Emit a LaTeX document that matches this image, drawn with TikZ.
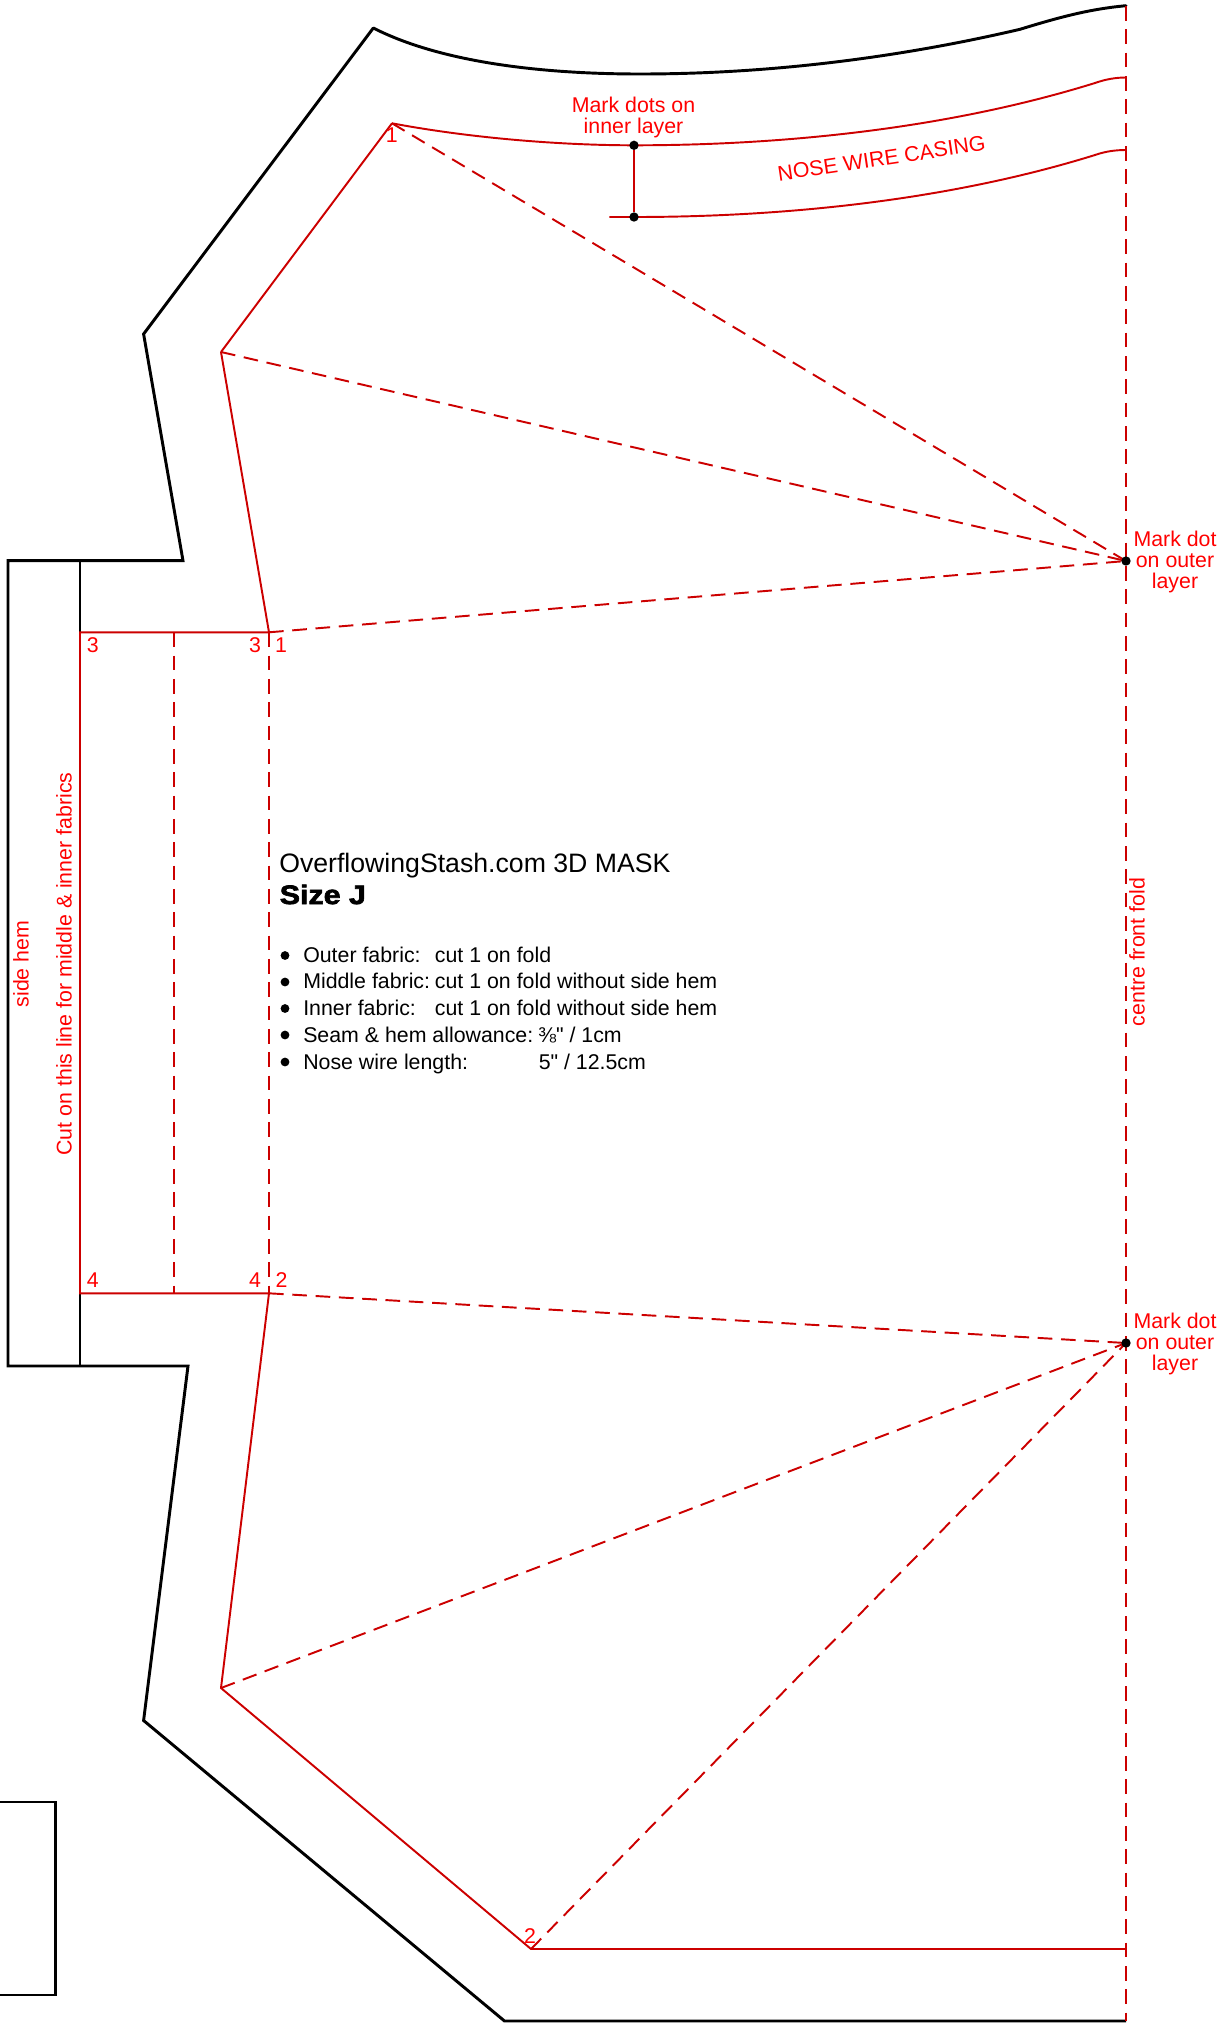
\documentclass[tikz,border=0pt]{standalone}
\usepackage{fontspec}
\setmainfont{Liberation Sans}
\newfontfamily\plainf{Liberation Sans}
\newfontfamily\blk[FakeBold=2.6,FakeStretch=1.14]{Liberation Sans Bold}
\definecolor{seam}{HTML}{CC0000}
\definecolor{lab}{HTML}{FF0000}
\pgfdeclarelayer{lines}
\pgfsetlayers{lines,main}
\tikzset{
 outline/.style={draw=black,line width=2.2pt,line join=miter},
 seamline/.style={draw=seam,line width=1.45pt},
 foldline/.style={draw=seam,line width=1.45pt,dash pattern=on 11pt off 6.5pt},
 redtext/.style={text=lab,inner sep=0pt,align=center,font=\fontsize{16}{15.75}\selectfont},
 numtext/.style={text=lab,inner sep=0pt,font=\fontsize{16}{16}\selectfont},
 bodytext/.style={text=black,inner sep=0pt,anchor=base west,font=\fontsize{16}{16}\selectfont},
 dotmark/.style={circle,fill=black,inner sep=0pt,minimum size=7pt},
 bulletmark/.style={circle,fill=black,inner sep=0pt,minimum size=6.6pt},
}
\begin{document}
\begin{tikzpicture}[x=0.75pt,y=-0.75pt]
\useasboundingbox (0,0) rectangle (1225,2028);
% key points
\coordinate (p1) at (392,123.3);
\coordinate (p2) at (221,352);
\coordinate (p3) at (269,632.3);
\coordinate (p4) at (269,1293.3);
\coordinate (p5) at (221,1688);
\coordinate (p6) at (531,1949);
\coordinate (p7) at (1126,1949);
\coordinate (l3) at (80,632.3);
\coordinate (l4) at (80,1293.3);
\coordinate (m3) at (174,632.3);
\coordinate (m4) at (174,1293.3);
\coordinate (ftop) at (1126,6);
\coordinate (fbot) at (1126,2021);
\node[dotmark] (dotA) at (1126,561) {};
\node[dotmark] (dotB) at (1126,1343) {};
\node[dotmark] (dotC) at (634,145.3) {};
\node[dotmark] (dotD) at (634,217) {};
\begin{pgfonlayer}{lines}
% outer cutting line
\draw[outline,line cap=round] (373.3,28) .. controls (440,62) and (540,74) .. (640,74) .. controls (780,74) and (910,55) .. (1020,29.3) .. controls (1060,17) and (1090,9) .. (1126,5.7);
\draw[outline] (373.3,28) -- (143.6,334) -- (183,560.7) -- (8,560.7) -- (8,1366) -- (188,1366) -- (143.6,1720.5) -- (504.5,2021) -- (1126,2021);
\draw[draw=black,line width=2.2pt] (80,560.7) -- (80,1366);
\draw[outline] (0,1802) -- (55.6,1802) -- (55.6,1995) -- (0,1995);
% solid seams
\draw[seamline] (p2) -- (p1);
\draw[seamline] (p2) -- (p3) -- (l3) -- (l4) -- (p4) -- (p5) -- (p6) -- (p7);
\draw[seamline] (p1) .. controls (470,138) and (560,145.3) .. (dotC.center) .. controls (800,145.3) and (960,125) .. (1095,83) .. controls (1105,79.5) and (1115,77.5) .. (1126,77.5);
\draw[seamline] (609.3,217) -- (dotD.center) .. controls (800,217) and (960,197) .. (1095,155) .. controls (1105,151.5) and (1115,150) .. (1126,150);
\draw[seamline] (dotC) -- (dotD);
% fold and dashed lines
\draw[foldline] (ftop) -- (fbot);
\draw[foldline] (p3) -- (p4);
\draw[foldline] (m3) -- (m4);
\draw[foldline] (p1) -- (dotA.center);
\draw[foldline] (p2) -- (dotA.center);
\draw[foldline] (p3) -- (dotA.center);
\draw[foldline] (p4) -- (dotB.center);
\draw[foldline] (p5) -- (dotB.center);
\draw[foldline] (p6) -- (dotB.center);
\end{pgfonlayer}
% numbers
\node[numtext] (n1) at (391.7,135) {1};
\node[numtext] (n3a) at (92.7,645) {3};
\node[numtext] (n3b) at (255,645) {3};
\node[numtext] (n1b) at (281,645) {1};
\node[numtext] (n4a) at (92.7,1280) {4};
\node[numtext] (n4b) at (255,1280) {4};
\node[numtext] (n2a) at (281.5,1280) {2};
\node[numtext] (n2b) at (530,1936) {2};
% labels
\node[redtext] (mk1) at (633.5,117) {Mark dots on\\inner layer};
\node[redtext,rotate=8.5] (nw) at (881.5,158.5) {NOSE WIRE CASING};
\node[redtext] (mk2) at (1175,561.5) {Mark dot\\on outer\\layer};
\node[redtext] (mk3) at (1175,1343.5) {Mark dot\\on outer\\layer};
\node[redtext,rotate=90] (sh) at (21,964) {side hem};
\node[redtext,rotate=90] (cut) at (64,964) {Cut on this line for middle \& inner fabrics};
\node[redtext,rotate=90] (cf) at (1137,952) {centre front fold};
% text block
\node[bodytext,font=\fontsize{20}{20}\selectfont] (t1) at (279,872.5) {OverflowingStash.com 3D MASK};
\node[bodytext,font=\fontsize{20}{20}\blk] (t2) at (279.5,904) {Size J};
\node[bulletmark] (b1) at (285,955.5) {};
\node[bulletmark] (b2) at (285,982) {};
\node[bulletmark] (b3) at (285,1008.5) {};
\node[bulletmark] (b4) at (285,1035) {};
\node[bulletmark] (b5) at (285,1062) {};
\node[bodytext] (a1) at (303,962.7) {Outer fabric:};
\node[bodytext] (a2) at (303,988.9) {Middle fabric:};
\node[bodytext] (a3) at (303,1015.5) {Inner fabric:};
\node[bodytext] (a4) at (303,1042.4) {Seam \& hem allowance:};
\node[bodytext] (a5) at (303,1069.2) {Nose wire length:};
\node[bodytext] (c1) at (434.7,962.7) {cut 1 on fold};
\node[bodytext] (c2) at (434.7,988.9) {cut 1 on fold without side hem};
\node[bodytext] (c3) at (434.7,1015.5) {cut 1 on fold without side hem};
\node[bodytext] (c4) at (538,1042.4) {\plainf ⅜" / 1cm};
\node[bodytext] (c5) at (538.5,1069.2) {\plainf 5" / 12.5cm};
\end{tikzpicture}
\end{document}
